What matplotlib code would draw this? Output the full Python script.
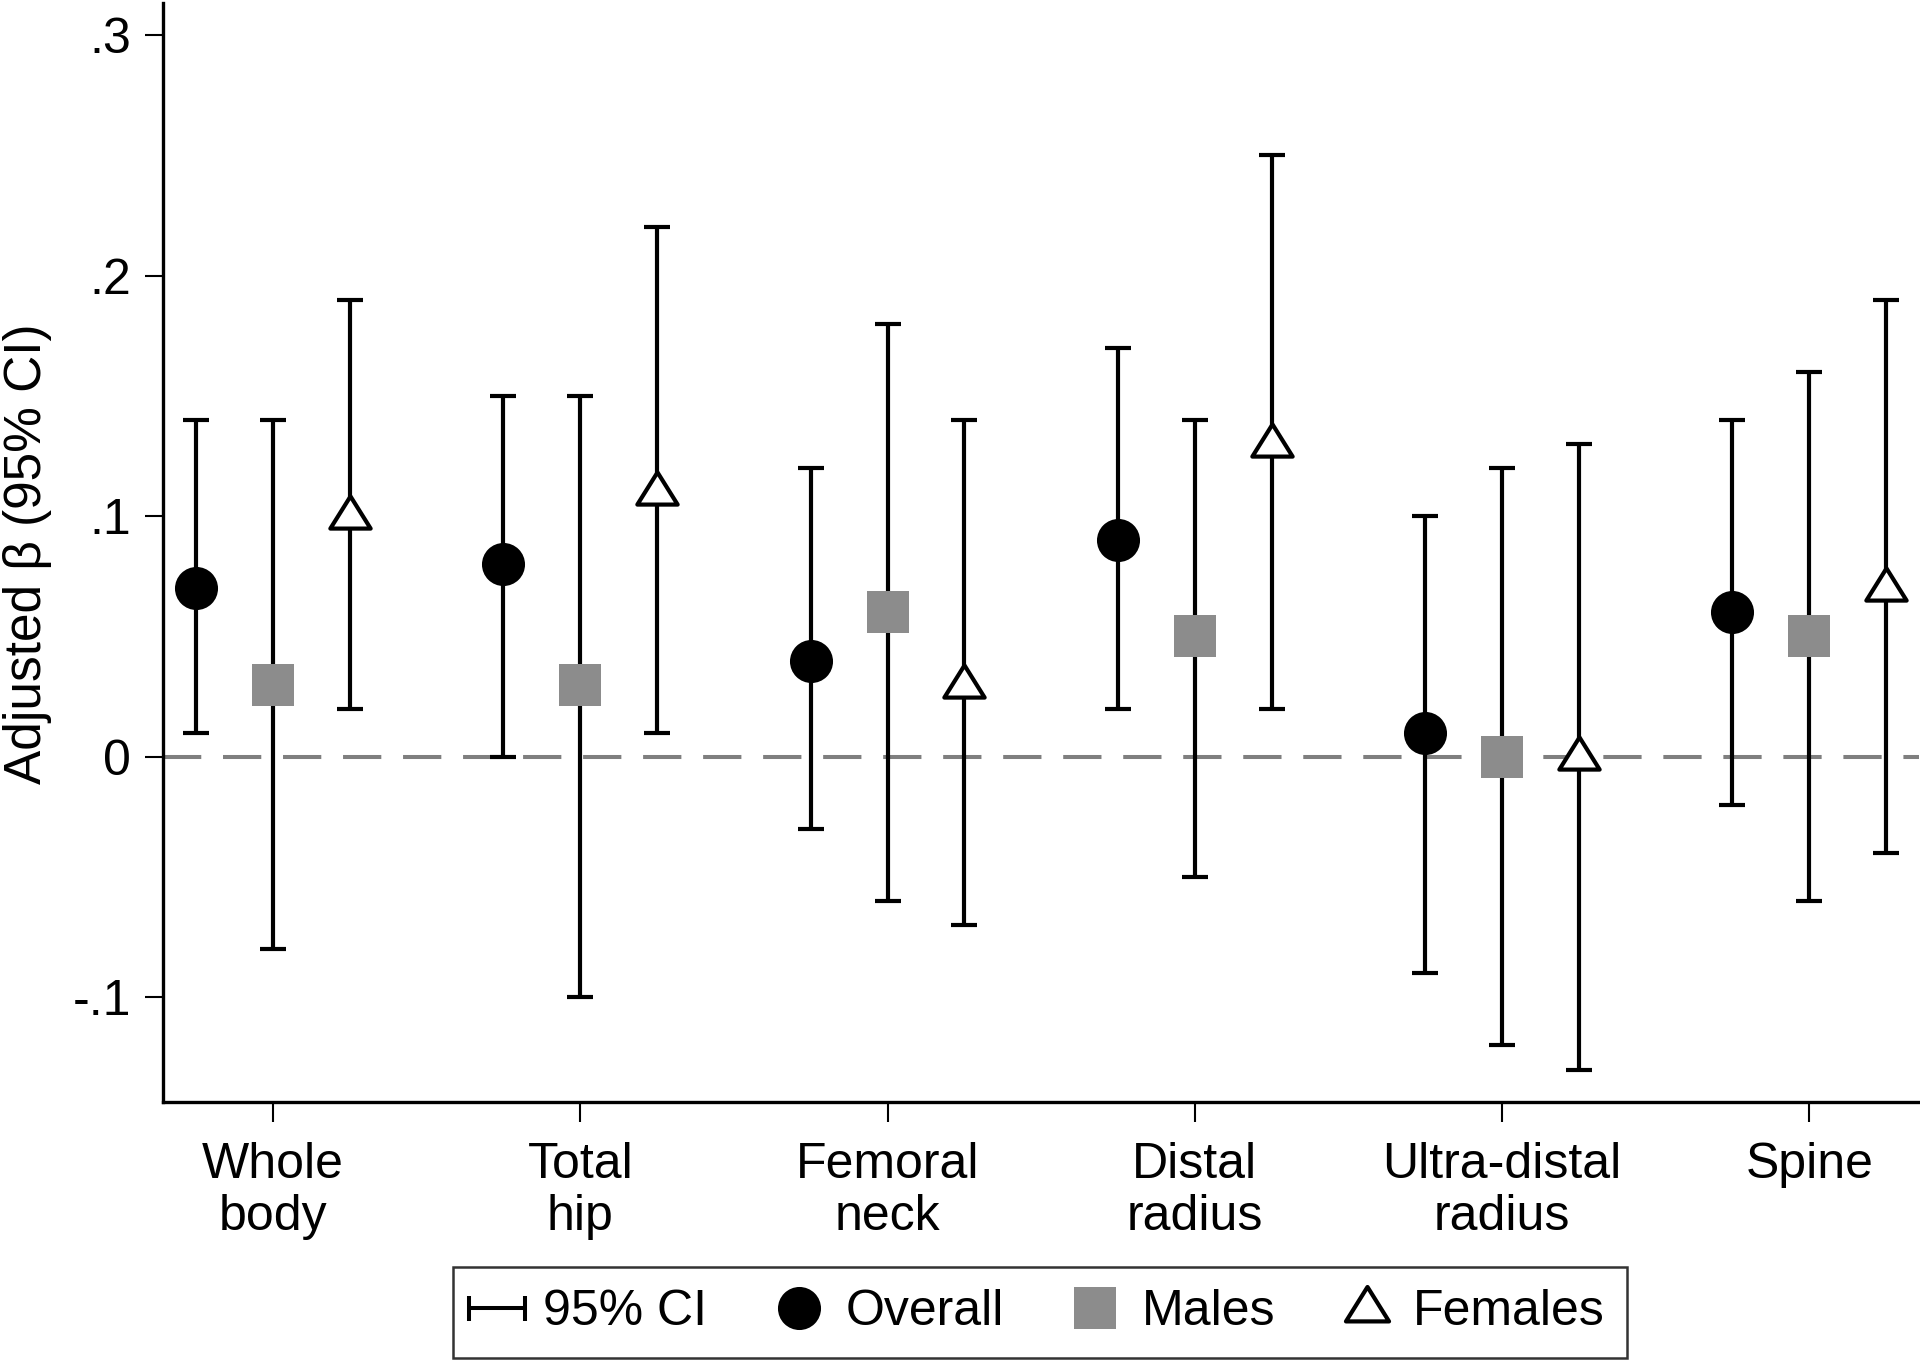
import matplotlib
matplotlib.use("Agg")
import matplotlib.pyplot as plt
import numpy as np
from matplotlib.path import Path
from matplotlib.lines import Line2D

# ---------------- data ----------------
sites = ["Whole\nbody", "Total\nhip", "Femoral\nneck", "Distal\nradius",
         "Ultra-distal\nradius", "Spine"]
overall_beta = [0.07, 0.08, 0.04, 0.09, 0.01, 0.06]
overall_lo = [0.01, 0.00, -0.03, 0.02, -0.09, -0.02]
overall_hi = [0.14, 0.15, 0.12, 0.17, 0.10, 0.14]
males_beta = [0.03, 0.03, 0.06, 0.05, 0.00, 0.05]
males_lo = [-0.08, -0.10, -0.06, -0.05, -0.12, -0.06]
males_hi = [0.14, 0.15, 0.18, 0.14, 0.12, 0.16]
females_beta = [0.10, 0.11, 0.03, 0.13, 0.00, 0.07]
females_lo = [0.02, 0.01, -0.07, 0.02, -0.13, -0.04]
females_hi = [0.19, 0.22, 0.14, 0.25, 0.13, 0.19]
yticks = [-0.1, 0.0, 0.1, 0.2, 0.3]
ytick_labels = ["-.1", "0", ".1", ".2", ".3"]
legend_labels = ["95% CI", "Overall", "Males", "Females"]

# ---------------- style ----------------
plt.rcParams["font.family"] = ["Liberation Sans", "DejaVu Sans"]
GREY_SQ = "#8c8c8c"
GREY_LINE = "#7f7f7f"

fig = plt.figure(figsize=(19.2, 13.62), dpi=100)
ax = fig.add_axes([163 / 1920, 1 - 1102 / 1362, (1919 - 163) / 1920, (1102 - 3) / 1362])

x = np.arange(1, len(sites) + 1)
offset = 0.25

tri_path = Path([(0, 1.0), (-1, -0.6), (1, -0.6), (0, 1.0)],
                [Path.MOVETO, Path.LINETO, Path.LINETO, Path.CLOSEPOLY])

series = [
    (x - offset, overall_beta, overall_lo, overall_hi,
     dict(marker="o", ms=31, mfc="black", mec="black", mew=0)),
    (x, males_beta, males_lo, males_hi,
     dict(marker="s", ms=30, mfc=GREY_SQ, mec=GREY_SQ, mew=0)),
    (x + offset, females_beta, females_lo, females_hi,
     dict(marker=tri_path, ms=29, mfc="white", mec="black", mew=3)),
]

ax.axhline(0, color=GREY_LINE, lw=2.9, dashes=(9.5, 5.4), zorder=1)

for xs, b, lo, hi, mk in series:
    b = np.array(b); lo = np.array(lo); hi = np.array(hi)
    ax.errorbar(xs, b, yerr=[b - lo, hi - b], fmt="none", ecolor="black",
                elinewidth=3.0, capsize=9.4, capthick=3.0, zorder=2)
    ax.plot(xs, b, linestyle="none", zorder=3, **mk)

ax.set_xlim(0.642, 6.357)
ax.set_ylim(-0.1435, 0.3133)
ax.set_yticks(yticks)
ax.set_yticklabels(ytick_labels)
ax.set_xticks(x)
ax.set_xticklabels(sites, linespacing=1.17)

for s in ["top", "right"]:
    ax.spines[s].set_visible(False)
for s in ["left", "bottom"]:
    ax.spines[s].set_linewidth(2.4)
    ax.spines[s].set_color("black")

ax.tick_params(axis="y", length=13, width=1.5, pad=10, labelsize=36, colors="black")
ax.tick_params(axis="x", length=14.5, width=1.5, pad=14, labelsize=36, colors="black")

fig.text(28 / 1920, 1 - 554 / 1362, "Adjusted β (95% CI)", rotation=90,
         ha="center", va="center", fontsize=37)

# legend
ci_path = Path([(-1, 0), (1, 0), (-1, -0.45), (-1, 0.45), (1, -0.45), (1, 0.45)],
               [Path.MOVETO, Path.LINETO, Path.MOVETO, Path.LINETO, Path.MOVETO, Path.LINETO])
handles = [
    Line2D([], [], linestyle="none", marker=ci_path, ms=40, mec="black", mfc="none", mew=2.9),
    Line2D([], [], linestyle="none", marker="o", ms=31, mfc="black", mec="black", mew=0),
    Line2D([], [], linestyle="none", marker="s", ms=30, mfc=GREY_SQ, mec=GREY_SQ, mew=0),
    Line2D([], [], linestyle="none", marker=tri_path, ms=31, mfc="white", mec="black", mew=3),
]
leg = fig.legend(handles, legend_labels, loc="center", ncol=4,
                 bbox_to_anchor=(1040 / 1920, 1 - 1312 / 1362),
                 bbox_transform=fig.transFigure, fontsize=36, frameon=True,
                 fancybox=False, edgecolor="black", handlelength=0.86,
                 handletextpad=0.5, columnspacing=1.4, borderpad=0.45)
leg.get_frame().set_linewidth(1.8)

fig.savefig("out.png", dpi=100, facecolor="white")
